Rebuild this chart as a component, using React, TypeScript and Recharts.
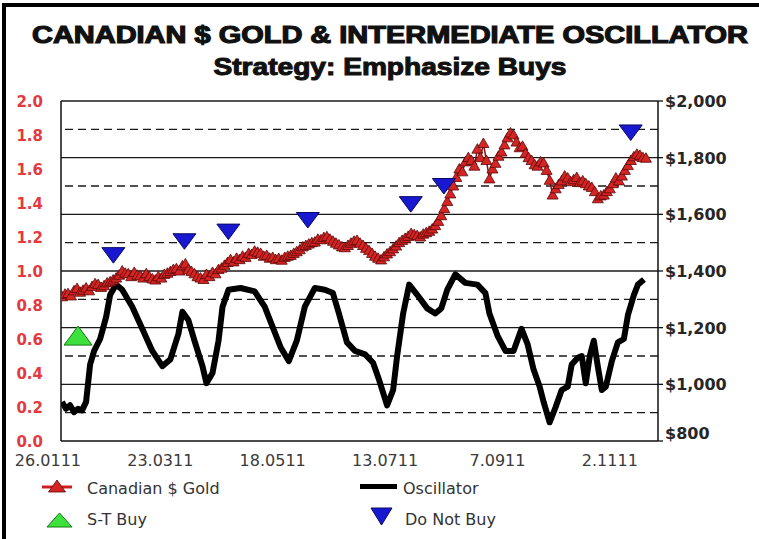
import React from 'react';
import { ComposedChart, Line, Scatter, XAxis, YAxis, ReferenceLine } from 'recharts';

// Day numbers are calendar days counted from 26 Jan 2011.
const goldDays = [7, 8.5, 10, 11.5, 13, 14.5, 16, 17.5, 19, 20.5, 22, 23.5, 25, 26.5, 28, 29.5, 31, 32.5, 34, 35.5, 37, 38.5, 40, 41.5, 43, 44.5, 46, 47.5, 49, 50.5, 52, 53.5, 55, 56.5, 58, 59.5, 61, 62.5, 64, 65.5, 67, 68.5, 70, 71.5, 73, 74.5, 76, 77.5, 79, 80.5, 82, 83.5, 85, 86.5, 88, 89.5, 91, 92.5, 94, 95.5, 97, 98.5, 100, 101.5, 103, 104.5, 106, 107.5, 109, 110.5, 112, 113.5, 115, 116.5, 118, 119.5, 121, 122.5, 124, 125.5, 127, 128.5, 130, 131.5, 133, 134.5, 136, 137.5, 139, 140.5, 142, 143.5, 145, 146.5, 148, 149.5, 151, 152.5, 154, 155.5, 157, 158.5, 160, 161.5, 163, 164.5, 166, 167.5, 169, 170.5, 172, 173.5, 175, 176.5, 178, 179.5, 181, 182.5, 184, 185.5, 187, 188.5, 190, 191.5, 193, 194.5, 196, 197.5, 199, 200.5, 202, 203.5, 205, 206.5, 208, 209.5, 211, 212.5, 214, 215.5, 217, 218.5, 220, 221.5, 223, 224.5, 226, 227.5, 229, 230.5, 232, 233.5, 235, 236.5, 238, 239.5, 241, 242.5, 244, 245.5, 247, 248.5, 250, 251.5, 253, 254.5, 256, 257.5, 259, 260.5, 262, 263.5, 265, 266.5, 268, 269.5, 271, 272.5, 274, 275.5, 277, 278.5, 280, 281.5, 283, 284.5, 286, 287.5, 289, 290.5, 292, 293.5, 295, 296.5, 298];
const goldPrices = [1309, 1318, 1320, 1312, 1330, 1338, 1325, 1332, 1340, 1330, 1345, 1355, 1352, 1342, 1348, 1358, 1362, 1368, 1375, 1385, 1400, 1392, 1390, 1380, 1395, 1385, 1383, 1375, 1390, 1380, 1372, 1368, 1380, 1375, 1388, 1392, 1398, 1405, 1408, 1400, 1418, 1425, 1405, 1398, 1390, 1380, 1375, 1370, 1388, 1380, 1395, 1390, 1405, 1410, 1420, 1430, 1440, 1432, 1445, 1440, 1452, 1448, 1462, 1458, 1470, 1466, 1462, 1452, 1455, 1445, 1448, 1440, 1444, 1438, 1448, 1452, 1455, 1462, 1468, 1475, 1485, 1490, 1495, 1500, 1502, 1512, 1510, 1518, 1521, 1512, 1505, 1498, 1492, 1485, 1482, 1490, 1498, 1505, 1508, 1498, 1490, 1480, 1472, 1462, 1452, 1445, 1439, 1450, 1460, 1468, 1478, 1488, 1500, 1508, 1515, 1522, 1532, 1528, 1525, 1520, 1530, 1535, 1540, 1548, 1560, 1575, 1595, 1620, 1645, 1672, 1700, 1730, 1760, 1750, 1785, 1800, 1790, 1770, 1830, 1800, 1850, 1790, 1725, 1760, 1780, 1805, 1820, 1845, 1870, 1887, 1880, 1855, 1835, 1840, 1815, 1800, 1790, 1775, 1770, 1785, 1781, 1755, 1720, 1668, 1690, 1705, 1718, 1735, 1728, 1715, 1722, 1730, 1712, 1718, 1708, 1700, 1695, 1680, 1655, 1665, 1668, 1680, 1690, 1708, 1728, 1718, 1735, 1755, 1772, 1790, 1803, 1812, 1808, 1800, 1798];

const oscDays = [7, 9, 11, 13, 15, 17, 19, 21, 23, 26, 29, 31, 34, 37, 42, 47, 52, 57, 61, 65, 67, 70, 73, 77, 79, 82, 85, 87, 90, 96, 103, 108, 112, 116, 120, 124, 128, 133, 138, 142, 145, 149, 153, 158, 162, 165, 169, 172, 174, 177, 180, 184, 189, 193, 196, 199, 203, 208, 214, 218, 220, 224, 228, 232, 236, 239, 242, 245, 247, 250, 253, 256, 259, 261, 264, 266, 268, 270, 272, 274, 276, 278, 281, 284, 287, 289, 292, 294, 297];
const oscValues = [0.23, 0.19, 0.21, 0.17, 0.19, 0.18, 0.23, 0.45, 0.53, 0.6, 0.73, 0.86, 0.92, 0.89, 0.79, 0.66, 0.53, 0.44, 0.48, 0.63, 0.76, 0.71, 0.59, 0.44, 0.34, 0.4, 0.59, 0.79, 0.89, 0.9, 0.88, 0.79, 0.67, 0.55, 0.47, 0.59, 0.79, 0.9, 0.89, 0.87, 0.75, 0.58, 0.53, 0.51, 0.46, 0.36, 0.21, 0.3, 0.5, 0.75, 0.92, 0.86, 0.78, 0.75, 0.78, 0.89, 0.98, 0.93, 0.92, 0.87, 0.75, 0.62, 0.53, 0.53, 0.66, 0.57, 0.42, 0.32, 0.23, 0.11, 0.2, 0.3, 0.32, 0.45, 0.49, 0.5, 0.34, 0.5, 0.59, 0.44, 0.3, 0.32, 0.47, 0.58, 0.6, 0.74, 0.86, 0.92, 0.95];

const stBuyDays = [15];
const stBuyValues = [0.62];

const doNotBuyDays = [32.6, 68, 89.9, 129.5, 180.8, 197.3, 290.4];
const doNotBuyPrices = [1456, 1505, 1539, 1580, 1636, 1700, 1889];

const dateTicks = [0, 56, 112, 168, 224, 280];
const dateLabels = ['26.0111', '23.0311', '18.0511', '13.0711', '7.0911', '2.1111'];
const oscTicks = [0, 0.2, 0.4, 0.6, 0.8, 1.0, 1.2, 1.4, 1.6, 1.8, 2.0];
const goldTicks = [800, 1000, 1200, 1400, 1600, 1800, 2000];
const solidGrid = [1000, 1200, 1400, 1600, 1800, 2000];
const dashedGrid = [900, 1100, 1300, 1500, 1700, 1900];

const goldData = goldDays.map((d, i) => ({ day: d, gold: goldPrices[i] }));
const oscData = oscDays.map((d, i) => ({ day: d, osc: oscValues[i] }));
const stBuyData = stBuyDays.map((d, i) => ({ day: d, sig: stBuyValues[i] }));
const dnbData = doNotBuyDays.map((d, i) => ({ day: d, price: doNotBuyPrices[i] }));

const FONT = '"DejaVu Sans", "Liberation Sans", Arial, sans-serif';

const RedTri = (props: any) => {
  const { cx, cy, index } = props;
  if (cx == null || cy == null) return <g key={`rt-${index}`} />;
  return (
    <path
      key={`rt-${index}`}
      d={`M${cx},${cy - 5.5} L${cx + 5.5},${cy + 4} L${cx - 5.5},${cy + 4} Z`}
      fill="#d42424"
      stroke="#5c0808"
      strokeWidth={0.8}
    />
  );
};

const GreenTri = (props: any) => {
  const { cx, cy } = props;
  return (
    <path
      d={`M${cx},${cy - 9.5} L${cx + 14},${cy + 9.5} L${cx - 14},${cy + 9.5} Z`}
      fill="#3ee03e"
      stroke="#127a12"
      strokeWidth={1}
    />
  );
};

const BlueTri = (props: any) => {
  const { cx, cy } = props;
  return (
    <path
      d={`M${cx - 11.5},${cy - 7.5} L${cx + 11.5},${cy - 7.5} L${cx},${cy + 8} Z`}
      fill="#1818d0"
      stroke="#0a0a60"
      strokeWidth={1}
    />
  );
};

const DateTick = (props: any) => {
  const { x, y, payload } = props;
  const i = dateTicks.indexOf(payload.value);
  return (
    <text x={x} y={y} dy={11.5} textAnchor="middle" fontFamily={FONT} fontSize={16} fill="#3a3a3a">
      {i >= 0 ? dateLabels[i] : ''}
    </text>
  );
};

const OscTick = (props: any) => {
  const { x, y, payload } = props;
  return (
    <text x={x} y={y} dy={5.5} textAnchor="end" fontFamily={FONT} fontSize={15} fontWeight="bold" fill="#e23a3f">
      {Number(payload.value).toFixed(1)}
    </text>
  );
};

const GoldTick = (props: any) => {
  const { x, y, payload } = props;
  const v = payload.value as number;
  const shift = v === 800 ? -8 : 0;
  return (
    <text x={x} y={y + shift} dy={6} textAnchor="start" fontFamily={FONT} fontSize={16} fontWeight="bold" fill="#262626">
      {'$' + v.toLocaleString('en-US')}
    </text>
  );
};

export default function App() {
  return (
    <div style={{ position: 'absolute', left: 0, top: 0, width: 759, height: 539, overflow: 'hidden', background: '#fff' }}>
      <div style={{ position: 'absolute', left: 2, top: 3, width: 900, height: 700, border: '4px solid #000', boxSizing: 'border-box' }} />
      <svg width={759} height={539} style={{ position: 'absolute', left: 0, top: 0 }}>
        <text x={390} y={43} textAnchor="middle" fontFamily='"Liberation Sans", Arial, sans-serif' fontSize={24} fontWeight={900} fill="#111" stroke="#111" strokeWidth={1.2} textLength={716} lengthAdjust="spacingAndGlyphs">
          CANADIAN $ GOLD &amp; INTERMEDIATE OSCILLATOR
        </text>
        <text x={390} y={75} textAnchor="middle" fontFamily='"Liberation Sans", Arial, sans-serif' fontSize={23} fontWeight={900} fill="#111" stroke="#111" strokeWidth={1} textLength={353} lengthAdjust="spacingAndGlyphs">
          Strategy: Emphasize Buys
        </text>
        {/* legend */}
        <line x1={42} y1={487} x2={72} y2={487} stroke="#cc2020" strokeWidth={3} />
        <path d="M57,480 L65.5,492 L48.5,492 Z" fill="#d42424" stroke="#5c0808" strokeWidth={0.8} />
        <text x={87} y={493.5} fontFamily={FONT} fontSize={16} fill="#333">Canadian $ Gold</text>
        <path d="M59.5,513 L72,527 L47,527 Z" fill="#3ee03e" stroke="#127a12" strokeWidth={1} />
        <text x={87} y={525} fontFamily={FONT} fontSize={16} fill="#333">S-T Buy</text>
        <line x1={360} y1={486.5} x2={397} y2={486.5} stroke="#000" strokeWidth={5} />
        <text x={403} y={494} fontFamily={FONT} fontSize={16} fill="#333">Oscillator</text>
        <path d="M371,508 L392,508 L381.5,525 Z" fill="#1818d0" stroke="#0a0a60" strokeWidth={1} />
        <text x={405} y={525} fontFamily={FONT} fontSize={16} fill="#333">Do Not Buy</text>
      </svg>
      <div style={{ position: 'absolute', left: 0, top: 0 }}>
        <ComposedChart width={759} height={539} margin={{ top: 101, right: 11, bottom: 68, left: 11 }}>
          <XAxis
            dataKey="day"
            type="number"
            domain={[6.5, 304]}
            allowDataOverflow
            ticks={dateTicks}
            interval={0}
            tick={<DateTick />}
            tickLine={false}
            tickSize={6}
            tickMargin={7}
            height={30}
            axisLine={{ stroke: '#111', strokeWidth: 1.5 }}
          />
          <YAxis
            yAxisId="osc"
            orientation="left"
            type="number"
            domain={[0, 2]}
            allowDataOverflow
            ticks={oscTicks}
            interval={0}
            tick={<OscTick />}
            tickLine={false}
            tickSize={6}
            tickMargin={12}
            width={50}
            axisLine={{ stroke: '#111', strokeWidth: 1.5 }}
          />
          <YAxis
            yAxisId="gold"
            orientation="right"
            type="number"
            domain={[800, 2000]}
            allowDataOverflow
            ticks={goldTicks}
            interval={0}
            tick={<GoldTick />}
            tickLine={{ stroke: '#111', strokeWidth: 1.3 }}
            tickSize={5}
            tickMargin={2}
            width={90}
            axisLine={{ stroke: '#111', strokeWidth: 1.5 }}
          />
          {solidGrid.map((v) => (
            <ReferenceLine key={`s${v}`} yAxisId="gold" y={v} stroke="#1a1a1a" strokeWidth={1.4} />
          ))}
          {dashedGrid.map((v) => (
            <ReferenceLine key={`d${v}`} yAxisId="gold" y={v} stroke="#1a1a1a" strokeWidth={1.4} strokeDasharray="8 5" />
          ))}
          <Line
            data={goldData}
            dataKey="gold"
            yAxisId="gold"
            type="linear"
            stroke="#8a1010"
            strokeWidth={1.5}
            dot={RedTri}
            activeDot={false}
            isAnimationActive={false}
          />
          <Line
            data={oscData}
            dataKey="osc"
            yAxisId="osc"
            type="linear"
            stroke="#000"
            strokeWidth={6}
            strokeLinejoin="round"
            dot={false}
            activeDot={false}
            isAnimationActive={false}
          />
          <Scatter data={stBuyData} dataKey="sig" yAxisId="osc" shape={GreenTri} isAnimationActive={false} />
          <Scatter data={dnbData} dataKey="price" yAxisId="gold" shape={BlueTri} isAnimationActive={false} />
        </ComposedChart>
      </div>
    </div>
  );
}
